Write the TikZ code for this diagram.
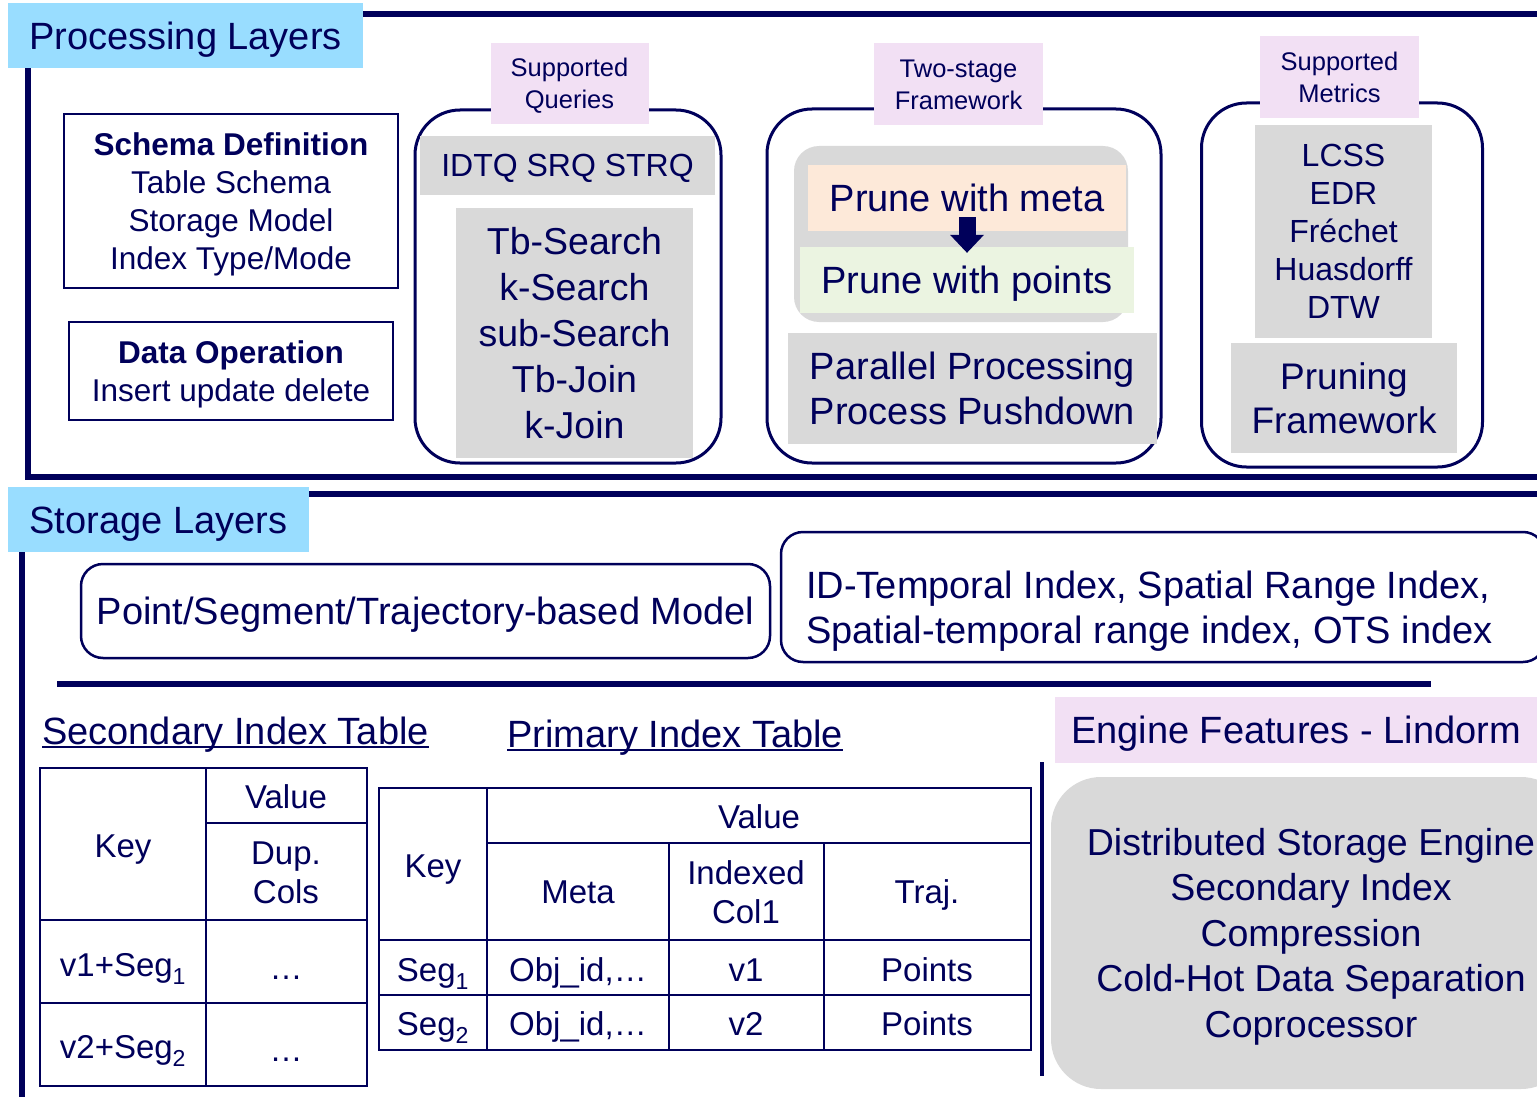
\documentclass[tikz,border=0pt]{standalone}
\usepackage{fontspec}
\setmainfont{Liberation Sans}
\usetikzlibrary{arrows.meta, positioning}
\definecolor{navy}{RGB}{0,0,90}
\definecolor{lblue}{RGB}{153,221,255}
\definecolor{lpink}{RGB}{242,224,244}
\definecolor{lgrey}{RGB}{217,217,217}
\definecolor{peach}{RGB}{253,233,217}
\definecolor{lgreen}{RGB}{235,244,225}
\newcommand{\fL}{\fontsize{38}{45}\selectfont}
\newcommand{\fM}{\fontsize{31.5}{38}\selectfont}
\newcommand{\fT}{\fontsize{33}{39}\selectfont}
\tikzstyle{frame}=[line width=5.5pt]
\tikzstyle{vc}=[text height=#1, text depth=0pt]
\tikzstyle{tag}=[fill=lblue, inner sep=0pt, font=\fL, vc=27.2pt]
\tikzstyle{pinktag}=[fill=lpink, inner sep=0pt, align=center, font=\fontsize{25.5}{32}\selectfont, vc=50.3pt]
\tikzstyle{group}=[draw, line width=3pt, rounded corners=45pt, inner sep=0pt]
\tikzstyle{greybox}=[fill=lgrey, inner sep=0pt, align=center]
\tikzstyle{plainbox}=[draw, line width=2pt, inner sep=0pt, align=center]
\tikzstyle{modelbox}=[draw, line width=2.5pt, rounded corners=22pt, inner sep=0pt]
\tikzstyle{bigarrow}=[line width=17pt, -{Triangle[width=34pt, length=18pt, line width=0pt]}, shorten <=-14pt, shorten >=-6pt]
\tikzstyle{title}=[inner sep=0pt, font=\fL]
\tikzstyle{uline}=[line width=2pt]
\tikzstyle{tbl}=[line width=2.5pt]
\tikzstyle{cell}=[inner sep=0pt, align=center, font=\fT, vc=23.6pt]

\begin{document}
\begin{tikzpicture}[x=1pt, y=-1pt, color=navy]
\useasboundingbox (0,0) rectangle (1537,1097);

% processing layers
\draw[frame] (1545,14) -- (28,14) -- (28,477) -- (1545,477);
\node[tag, minimum width=355pt, minimum height=65pt] (proc) at (185.5,36) {Processing Layers};

\node[plainbox, minimum width=334pt, minimum height=174pt, font=\fM, vc=136.6pt] (schema) at (231,201)
  {\textbf{Schema Definition}\\Table Schema\\Storage Model\\Index Type/Mode};
\node[plainbox, minimum width=324pt, minimum height=98pt, font=\fM, vc=60.6pt] (dataop) at (231,371)
  {\textbf{Data Operation}\\Insert update delete};

% queries
\node[group, minimum width=306pt, minimum height=353pt] (qgroup) at (568,286.5) {};
\node[pinktag, minimum width=158pt, minimum height=81pt] (qtag) at (569.5,83.5) {Supported\\Queries};
\node[greybox, minimum width=295pt, minimum height=59pt, font=\fontsize{32}{38}\selectfont, vc=22.9pt] (qtypes) at (567.5,165.5) {IDTQ SRQ STRQ};
\node[greybox, minimum width=237pt, minimum height=250pt, font=\fontsize{37.5}{46}\selectfont, vc=210.9pt] (qlist) at (574.5,333)
  {Tb-Search\\k-Search\\sub-Search\\Tb-Join\\k-Join};

% two-stage framework
\node[group, minimum width=394pt, minimum height=354pt] (tgroup) at (964,286) {};
\node[pinktag, minimum width=169pt, minimum height=82pt] (ttag) at (958.5,84) {Two-stage\\Framework};
\node[greybox, rounded corners=25pt, minimum width=334pt, minimum height=176pt] (prune) at (961,234) {};
\node[fill=peach, inner sep=0pt, minimum width=318pt, minimum height=66pt, font=\fL, vc=27.2pt] (meta) at (967,198) {Prune with meta};
\node[fill=lgreen, inner sep=0pt, minimum width=334pt, minimum height=66pt, font=\fL, vc=27.2pt] (points) at (967,280) {Prune with points};
\draw[bigarrow] (meta.south) -- (points.north);
\node[greybox, minimum width=369pt, minimum height=111pt, font=\fL, vc=72.2pt] (parallel) at (972.5,388)
  {Parallel Processing\\Process Pushdown};

% metrics
\node[group, minimum width=281pt, minimum height=364pt] (mgroup) at (1342,285) {};
\node[pinktag, minimum width=159pt, minimum height=82pt] (mtag) at (1339.5,77) {Supported\\Metrics};
\node[greybox, minimum width=177pt, minimum height=213pt, font=\fontsize{32}{38}\selectfont, vc=174.9pt] (mlist) at (1343.5,231.5)
  {LCSS\\EDR\\Fréchet\\Huasdorff\\DTW};
\node[greybox, minimum width=226pt, minimum height=110pt, font=\fontsize{37}{44}\selectfont, vc=70.5pt] (pframe) at (1344,398)
  {Pruning\\Framework};

% storage layers
\draw[frame] (1545,494) -- (22,494) -- (22,1105);
\node[tag, minimum width=301pt, minimum height=65pt] (store) at (158.5,519.5) {Storage Layers};
\node[modelbox, minimum width=689pt, minimum height=94pt, font=\fL, vc=27.2pt] (model) at (425.5,611) {Point/Segment/Trajectory-based Model};
\node[modelbox, minimum width=764pt, minimum height=130pt] (idxbox) at (1163,597) {};
\node[inner sep=0pt, align=left, anchor=west, font=\fL, vc=72.2pt] (idxtext) at (806,607.5)
  {ID-Temporal Index, Spatial Range Index,\\Spatial-temporal range index, OTS index};
\draw[frame] (57,684) -- (1431,684);

% secondary index table
\node[title, anchor=base west] (sit) at (42,744) {Secondary Index Table};
\draw[uline] ([yshift=-3pt]sit.base west) -- ([yshift=-3pt]sit.base east);
\draw[tbl] (40,768) rectangle (367,1086);
\draw[tbl] (206,768) -- (206,1086);
\draw[tbl] (206,823) -- (367,823);
\draw[tbl] (40,920) -- (367,920);
\draw[tbl] (40,1003) -- (367,1003);
\node[cell] (skey) at (123,846) {Key};
\node[cell] (sval) at (286,797) {Value};
\node[cell, vc=62.6pt] (sdup) at (286,872) {Dup.\\Cols};
\node[cell] (sk1) at (123,965) {v1+Seg\textsubscript{1}};
\node[cell] (sv1) at (286,968) {…};
\node[cell] (sk2) at (123,1047) {v2+Seg\textsubscript{2}};
\node[cell] (sv2) at (286,1050) {…};

% primary index table
\node[title, anchor=base west] (pit) at (507,747) {Primary Index Table};
\draw[uline] ([yshift=-3pt]pit.base west) -- ([yshift=-3pt]pit.base east);
\draw[tbl] (379,788) rectangle (1031,1050);
\draw[tbl] (487,788) -- (487,1050);
\draw[tbl] (669,843) -- (669,1050);
\draw[tbl] (824,843) -- (824,1050);
\draw[tbl] (487,843) -- (1031,843);
\draw[tbl] (379,940) -- (1031,940);
\draw[tbl] (379,995) -- (1031,995);
\node[cell] (pkey) at (433,866) {Key};
\node[cell] (pval) at (759,817) {Value};
\node[cell] (pmeta) at (578,892) {Meta};
\node[cell, vc=62.6pt] (pidx) at (746,892) {Indexed\\Col1};
\node[cell] (ptraj) at (927,892) {Traj.};
\node[cell] (pk1) at (433,970) {Seg\textsubscript{1}};
\node[cell] (pm1) at (578,970) {Obj\_id,…};
\node[cell] (pi1) at (746,970) {v1};
\node[cell] (pt1) at (927,970) {Points};
\node[cell] (pk2) at (433,1024) {Seg\textsubscript{2}};
\node[cell] (pm2) at (578,1024) {Obj\_id,…};
\node[cell] (pi2) at (746,1024) {v2};
\node[cell] (pt2) at (927,1024) {Points};

% engine features
\draw[line width=4pt] (1042,762) -- (1042,1076);
\node[pinktag, minimum width=482pt, minimum height=66pt, font=\fL, vc=27.2pt] (etag) at (1296,729.5) {Engine Features - Lindorm};
\node[greybox, rounded corners=50pt, minimum width=520pt, minimum height=312pt, font=\fontsize{37.5}{45.5}\selectfont, vc=208.9pt] (engine) at (1311,933)
  {Distributed Storage Engine\\Secondary Index\\Compression\\Cold-Hot Data Separation\\Coprocessor};
\end{tikzpicture}
\end{document}
